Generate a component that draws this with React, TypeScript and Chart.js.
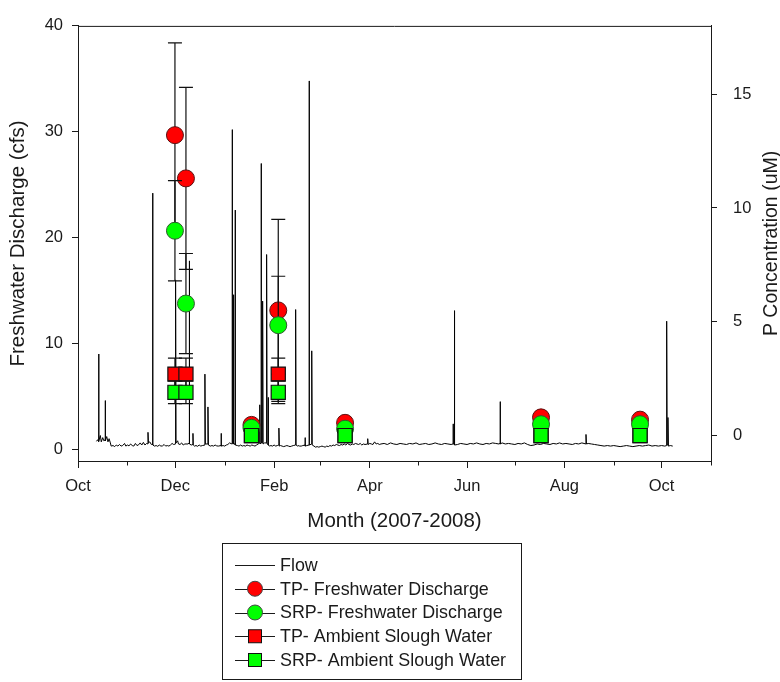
import React, { useEffect, useRef } from 'react';
import { Chart, registerables } from 'chart.js';

Chart.register(...registerables);

// Day offsets are counted from 1 Oct 2007.
const monthStartDays = [0, 31, 61, 92, 123, 152, 183, 213, 244, 274, 305, 336, 366, 397];
const monthLabels = ['Oct', '', 'Dec', '', 'Feb', '', 'Apr', '', 'Jun', '', 'Aug', '', 'Oct', ''];

const dischargeTicks = [0, 10, 20, 30, 40];
const concentrationTicks = [0, 5, 10, 15];

// Sampling dates (day offsets) and phosphorus concentrations (uM)
const sampleDays = [60.8, 67.7, 108.8, 125.6, 167.5, 290.4, 352.5];
const tpFreshwater = [13.2, 11.3, 0.47, 5.5, 0.56, 0.8, 0.7];
const tpFreshwaterErr = [4.05, 4.0, 0, 4.0, 0, 0, 0];
const srpFreshwater = [9.0, 5.8, 0.34, 4.85, 0.3, 0.5, 0.5];
const srpFreshwaterErr = [2.2, 2.2, 0, 2.15, 0, 0, 0];
const tpAmbient = [2.7, 2.7, 0.0, 2.7, 0.0, 0.0, 0.0];
const tpAmbientErr = [0.7, 0.7, 0, 0.7, 0, 0, 0];
const srpAmbient = [1.9, 1.9, 0.0, 1.9, 0.0, 0.0, 0.0];
const srpAmbientErr = [0.5, 0.5, 0, 0.5, 0, 0, 0];

// Flow record: [day offset, discharge cfs]
const flowRecord: [number, number][] = [
  [11.6, 0.75], [12.3, 0.9], [13.0, 0.7], [13.0, 9.0], [13.1, 0.8], [14, 1.3], [14.6, 0.7], [15.5, 1.1],
  [16.2, 0.8], [17.1, 0.9], [17.1, 4.6], [17.2, 0.8], [18, 1.2], [18.8, 0.7], [19.5, 1.0], [20.3, 0.6],
  [20.8, 0.3], [22, 0.35], [23, 0.25], [24, 0.4], [25, 0.3], [26, 0.45], [27, 0.3], [28, 0.35],
  [29.2, 0.55], [30, 0.3], [31, 0.4], [32, 0.32], [33, 0.5], [34, 0.35], [35, 0.3], [36, 0.55],
  [37, 0.35], [38, 0.42], [39, 0.6], [40, 0.4], [41, 0.65], [42, 0.4], [43, 0.55], [43.9, 0.5],
  [43.9, 1.6], [44.2, 0.6], [45, 0.7], [46, 0.45], [46.8, 0.5], [46.8, 24.2], [47, 0.4], [48, 0.3],
  [49, 0.35], [50, 0.28], [51, 0.4], [52, 0.3], [53, 0.32], [54, 0.45], [55, 0.3], [56, 0.35],
  [57, 0.3], [58, 0.4], [59, 0.55], [60, 0.45], [61.2, 0.5], [61.2, 16.0], [61.5, 0.6], [62.5, 0.8],
  [63, 0.5], [64, 0.45], [65, 0.6], [66, 0.4], [67, 0.5], [69, 0.5], [69.8, 0.6], [69.8, 17.8],
  [70, 0.5], [71, 0.4], [72.1, 0.45], [72.1, 1.5], [72.3, 0.4], [73, 0.3], [74, 0.35], [75, 0.28],
  [76, 0.4], [77, 0.3], [78, 0.35], [79.6, 0.4], [79.6, 7.1], [79.9, 0.5], [81.5, 0.5], [81.5, 4.0],
  [81.8, 0.4], [83, 0.3], [84, 0.35], [85, 0.3], [86, 0.4], [87, 0.32], [88, 0.3], [89.7, 0.35],
  [89.7, 1.5], [90, 0.3], [91, 0.35], [92, 0.3], [93, 0.4], [94, 0.45], [95, 0.6], [96.6, 0.5],
  [96.6, 30.2], [97.0, 0.6], [97.4, 0.6], [97.4, 14.6], [97.8, 0.5], [98.5, 0.5], [98.5, 22.6], [98.8, 0.4],
  [100, 0.35], [101, 0.3], [102, 0.4], [103, 0.3], [104, 0.35], [105, 0.3], [106, 0.4], [107, 0.35],
  [108, 0.3], [109, 0.4], [110, 0.35], [111, 0.3], [112, 0.4], [113, 0.5], [114, 0.6], [114, 4.2],
  [114.2, 0.5], [114.8, 0.6], [114.8, 27.0], [115.1, 0.6], [115.8, 0.6], [115.8, 14.0], [116.1, 0.5], [117, 0.6],
  [118.3, 0.6], [118.3, 18.4], [118.6, 0.5], [119.2, 0.5], [119.2, 4.9], [119.5, 0.4], [120, 0.3], [121, 0.35],
  [122, 0.3], [123, 0.4], [124, 0.3], [125, 0.35], [126, 0.4], [126, 2.0], [126.3, 0.3], [127, 0.35],
  [128, 0.3], [129, 0.25], [130, 0.3], [131, 0.35], [132, 0.3], [133, 0.25], [134, 0.3], [135, 0.35],
  [136.5, 0.4], [136.5, 13.2], [136.8, 0.4], [137.5, 0.3], [138, 0.35], [139, 0.3], [140, 0.3], [141, 0.35],
  [142.4, 0.4], [142.4, 1.1], [142.6, 0.3], [143.5, 0.35], [144.9, 0.4], [144.9, 34.8], [145.2, 0.4], [146.6, 0.5],
  [146.6, 9.3], [146.9, 0.4], [148, 0.3], [149, 0.2], [150, 0.25], [151, 0.2], [152, 0.25], [153, 0.3],
  [154, 0.25], [155, 0.2], [156, 0.3], [157, 0.25], [158, 0.35], [159, 0.3], [160, 0.4], [161, 0.35],
  [162, 0.45], [163, 0.4], [164, 0.35], [165, 0.45], [166, 0.4], [167, 0.5], [168, 0.4], [169, 0.55],
  [170, 0.45], [171, 0.4], [172, 0.5], [173, 0.45], [174, 0.55], [175, 0.5], [176, 0.45], [177, 0.55],
  [178, 0.4], [179, 0.5], [180, 0.45], [181.7, 0.5], [181.7, 1.0], [182, 0.45], [183, 0.55], [184, 0.5],
  [185, 0.45], [186, 0.7], [187, 0.5], [188, 0.55], [189, 0.45], [190, 0.5], [192, 0.55], [194, 0.45],
  [196, 0.6], [198, 0.5], [200, 0.45], [202, 0.55], [204, 0.5], [206, 0.45], [208, 0.55], [210, 0.5],
  [212, 0.6], [214, 0.45], [216, 0.5], [218, 0.55], [220, 0.45], [222, 0.5], [224, 0.6], [226, 0.5],
  [228, 0.45], [230, 0.55], [232, 0.5], [234, 0.45], [235.2, 0.5], [235.2, 2.4], [235.5, 0.5], [236, 0.5],
  [236, 13.1], [236.3, 0.4], [238, 0.45], [240, 0.55], [242, 0.5], [244, 0.45], [246, 0.55], [248, 0.5],
  [250, 0.6], [252, 0.5], [254, 0.45], [256, 0.55], [258, 0.5], [260, 0.6], [262, 0.55], [264, 0.5],
  [264.7, 0.55], [264.7, 4.5], [265, 0.5], [266, 0.6], [268, 0.5], [270, 0.55], [272, 0.5], [274, 0.45],
  [276, 0.55], [278, 0.5], [280, 0.6], [282, 0.45], [284, 0.35], [286, 0.4], [288, 0.5], [290, 0.45],
  [292, 0.55], [294, 0.5], [296, 0.45], [298, 0.55], [300, 0.5], [302, 0.6], [304, 0.5], [306, 0.55],
  [308, 0.5], [310, 0.45], [312, 0.55], [314, 0.5], [316, 0.6], [318.6, 0.5], [318.6, 1.4], [318.9, 0.5],
  [320, 0.55], [322, 0.5], [324, 0.45], [326, 0.4], [328, 0.35], [330, 0.3], [332, 0.35], [334, 0.3],
  [336, 0.35], [338, 0.3], [340, 0.25], [342, 0.3], [344, 0.35], [346, 0.3], [348, 0.25], [350, 0.3],
  [352, 0.35], [354, 0.3], [356, 0.35], [358, 0.4], [360, 0.3], [362, 0.35], [364, 0.3], [366, 0.35],
  [368, 0.3], [369.2, 0.35], [369.2, 12.1], [369.5, 0.4], [370, 0.4], [370, 3.0], [370.3, 0.3], [371.5, 0.35],
  [373, 0.3],
];

const FONT = '"Liberation Sans", Arial, Helvetica, sans-serif';
const INK = '#1a1a1a';
const RED = '#ff0000';
const GREEN = '#00ff00';

const toPoints = (vals: number[]) => vals.map((v, i) => ({ x: sampleDays[i], y: v }));

// Vertical error bars with caps, drawn just beneath each marker series.
const errorBarPlugin = {
  id: 'errorBars',
  beforeDatasetDraw(chart: any, args: any) {
    const ds = chart.data.datasets[args.index];
    if (!ds.errors) return;
    const yScale = chart.scales[ds.yAxisID];
    const ctx = chart.ctx;
    ctx.save();
    ctx.strokeStyle = '#111';
    ctx.lineWidth = 1.2;
    args.meta.data.forEach((el: any, i: number) => {
      const e = ds.errors[i];
      if (!e) return;
      const v = ds.data[i].y;
      const x = el.x;
      const yt = yScale.getPixelForValue(v + e);
      const yb = yScale.getPixelForValue(v - e);
      ctx.beginPath();
      ctx.moveTo(x, yt);
      ctx.lineTo(x, yb);
      ctx.moveTo(x - 7, yt);
      ctx.lineTo(x + 7, yt);
      ctx.moveTo(x - 7, yb);
      ctx.lineTo(x + 7, yb);
      ctx.stroke();
    });
    ctx.restore();
  },
};

// Frame top edge, minor month ticks, axis titles and the boxed legend.
const decorPlugin = {
  id: 'decor',
  afterDraw(chart: any) {
    const ctx = chart.ctx;
    const { left, right, top, bottom } = chart.chartArea;
    const xs = chart.scales.x;
    ctx.save();
    ctx.strokeStyle = INK;
    ctx.lineWidth = 1;
    ctx.beginPath();
    ctx.moveTo(left, top + 0.5);
    ctx.lineTo(right, top + 0.5);
    ctx.stroke();

    ctx.beginPath();
    monthStartDays.forEach((d, i) => {
      if (monthLabels[i]) return;
      const px = Math.round(xs.getPixelForValue(d)) + 0.5;
      ctx.moveTo(px, bottom);
      ctx.lineTo(px, bottom + 4.5);
    });
    ctx.stroke();

    ctx.fillStyle = INK;
    ctx.font = `20.5px ${FONT}`;
    ctx.textAlign = 'center';
    ctx.textBaseline = 'middle';
    ctx.fillText('Month (2007-2008)', (left + right) / 2, 521);

    ctx.save();
    ctx.translate(18, (top + bottom) / 2);
    ctx.rotate(-Math.PI / 2);
    ctx.fillText('Freshwater Discharge (cfs)', 0, 0);
    ctx.restore();

    ctx.save();
    ctx.font = `19.5px ${FONT}`;
    ctx.translate(772, (top + bottom) / 2);
    ctx.rotate(-Math.PI / 2);
    ctx.fillText('P Concentration (uM)', 0, 0);
    ctx.restore();

    // legend
    ctx.lineWidth = 1;
    ctx.strokeStyle = INK;
    ctx.strokeRect(222.5, 543.5, 299, 136);
    const items = [
      { label: 'Flow', kind: 'line', color: '' },
      { label: 'TP- Freshwater Discharge', kind: 'circle', color: RED },
      { label: 'SRP- Freshwater Discharge', kind: 'circle', color: GREEN },
      { label: 'TP- Ambient Slough Water', kind: 'rect', color: RED },
      { label: 'SRP- Ambient Slough Water', kind: 'rect', color: GREEN },
    ];
    ctx.font = `17.9px ${FONT}`;
    ctx.textAlign = 'left';
    items.forEach((it, i) => {
      const y = 565 + i * 23.75;
      ctx.strokeStyle = INK;
      ctx.lineWidth = 1;
      ctx.beginPath();
      ctx.moveTo(235, Math.round(y) + 0.5);
      ctx.lineTo(275, Math.round(y) + 0.5);
      ctx.stroke();
      if (it.kind === 'circle') {
        ctx.beginPath();
        ctx.arc(255, y, 7.5, 0, Math.PI * 2);
        ctx.fillStyle = it.color;
        ctx.fill();
        ctx.strokeStyle = '#444';
        ctx.stroke();
      } else if (it.kind === 'rect') {
        ctx.fillStyle = it.color;
        ctx.fillRect(248.5, y - 6.5, 13, 13);
        ctx.strokeStyle = '#111';
        ctx.strokeRect(248.5, y - 6.5, 13, 13);
      }
      ctx.fillStyle = INK;
      ctx.fillText(it.label, 280, y + 1);
    });
    ctx.restore();
  },
};

export default function App() {
  const canvasRef = useRef<HTMLCanvasElement | null>(null);

  useEffect(() => {
    if (!canvasRef.current) return;
    const tickFont = { family: FONT, size: 16.5 };
    const chart = new Chart(canvasRef.current, {
      type: 'scatter',
      data: {
        datasets: [
          {
            label: 'Flow',
            data: flowRecord.map(([d, q]) => ({ x: d, y: q })),
            showLine: true,
            borderColor: '#000',
            borderWidth: 1,
            pointRadius: 0,
            tension: 0,
            yAxisID: 'y',
            order: 5,
          },
          {
            label: 'TP- Freshwater Discharge',
            data: toPoints(tpFreshwater),
            errors: tpFreshwaterErr,
            pointStyle: 'circle',
            pointRadius: 8.5,
            backgroundColor: RED,
            borderColor: '#5a1010',
            borderWidth: 1,
            yAxisID: 'y2',
            order: 4,
          },
          {
            label: 'SRP- Freshwater Discharge',
            data: toPoints(srpFreshwater),
            errors: srpFreshwaterErr,
            pointStyle: 'circle',
            pointRadius: 8.5,
            backgroundColor: GREEN,
            borderColor: '#2d5a2d',
            borderWidth: 1,
            yAxisID: 'y2',
            order: 3,
          },
          {
            label: 'TP- Ambient Slough Water',
            data: toPoints(tpAmbient),
            errors: tpAmbientErr,
            pointStyle: 'rect',
            pointRadius: 10,
            backgroundColor: RED,
            borderColor: '#111',
            borderWidth: 1.2,
            yAxisID: 'y2',
            order: 2,
          },
          {
            label: 'SRP- Ambient Slough Water',
            data: toPoints(srpAmbient),
            errors: srpAmbientErr,
            pointStyle: 'rect',
            pointRadius: 10,
            backgroundColor: GREEN,
            borderColor: '#111',
            borderWidth: 1.2,
            yAxisID: 'y2',
            order: 1,
          },
        ] as any,
      },
      options: {
        responsive: false,
        animation: false,
        layout: { padding: { left: 0, right: 0, top: 16, bottom: 181 } },
        plugins: {
          legend: { display: false },
          tooltip: { enabled: false },
        },
        scales: {
          x: {
            type: 'linear',
            min: 0,
            max: 397,
            afterBuildTicks: (s: any) => {
              s.ticks = monthStartDays
                .map((d, i) => ({ value: d, label: monthLabels[i] }))
                .filter((t) => t.label);
            },
            afterFit: (s: any) => {
              s.height = 40;
            },
            ticks: {
              autoSkip: false,
              maxRotation: 0,
              padding: 9,
              color: INK,
              font: tickFont,
              callback: (v: any) => monthLabels[monthStartDays.indexOf(Number(v))] || '',
            },
            grid: { drawOnChartArea: false, drawTicks: true, tickLength: 7, tickColor: INK, tickWidth: 1 },
            border: { color: INK, width: 1 },
          },
          y: {
            position: 'left',
            min: -1.109,
            max: 40,
            afterBuildTicks: (s: any) => {
              s.ticks = dischargeTicks.map((v) => ({ value: v }));
            },
            afterFit: (s: any) => {
              s.width = 78;
            },
            ticks: { padding: 9, color: INK, font: tickFont },
            grid: { drawOnChartArea: false, drawTicks: true, tickLength: 6, tickColor: INK, tickWidth: 1 },
            border: { color: INK, width: 1 },
          },
          y2: {
            position: 'right',
            min: -1.117,
            max: 18,
            afterBuildTicks: (s: any) => {
              s.ticks = concentrationTicks.map((v) => ({ value: v }));
            },
            afterFit: (s: any) => {
              s.width = 69;
            },
            ticks: { padding: 16, color: INK, font: tickFont },
            grid: { drawOnChartArea: false, drawTicks: true, tickLength: 6, tickColor: INK, tickWidth: 1 },
            border: { color: INK, width: 1 },
          },
        },
      } as any,
      plugins: [errorBarPlugin, decorPlugin],
    });
    return () => chart.destroy();
  }, []);

  return (
    <div style={{ position: 'absolute', left: 0, top: 0, width: 780, height: 682, background: '#fff' }}>
      <canvas ref={canvasRef} width={780} height={682} style={{ display: 'block' }} />
    </div>
  );
}
